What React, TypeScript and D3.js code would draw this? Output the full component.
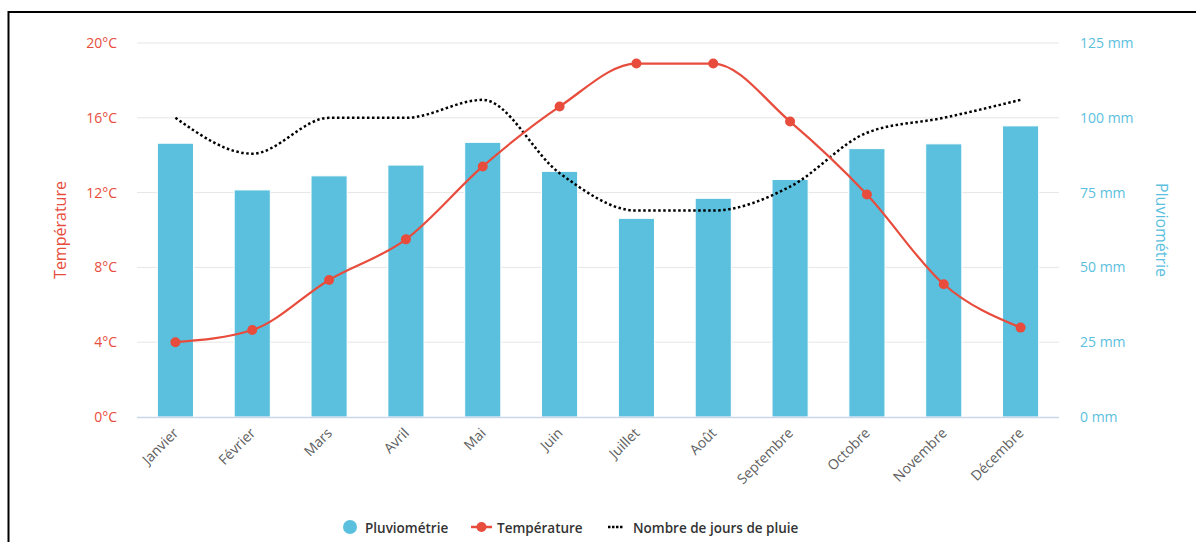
import React from 'react';
import * as d3 from 'd3';

const width = 1196;
const height = 542;
const left = 137;
const right = 1059;
const top = 43;
const bottom = 417;

const months = ['Janvier', 'Février', 'Mars', 'Avril', 'Mai', 'Juin', 'Juillet', 'Août', 'Septembre', 'Octobre', 'Novembre', 'Décembre'];
const rainfall = [91.5, 75.9, 80.6, 84.2, 91.8, 82.1, 66.4, 73.1, 79.4, 89.7, 91.3, 97.3];
const temperature = [4.0, 4.65, 7.33, 9.5, 13.4, 16.6, 18.9, 18.9, 15.8, 11.9, 7.1, 4.78];
const rainDays = [10, 8.8, 10, 10, 10.6, 8.15, 6.9, 6.9, 7.7, 9.5, 10, 10.6];
const tempTicks = [0, 4, 8, 12, 16, 20];
const rainTicks = [0, 25, 50, 75, 100, 125];

const red = '#e74c3c';
const blue = '#5bc0de';
const font = '"Open Sans", sans-serif';

const x = d3.scaleBand<string>().domain(months).range([left, right]).paddingInner(0.53).paddingOuter(0.265);
const xc = (m: string) => (x(m) as number) + x.bandwidth() / 2;
const yT = d3.scaleLinear().domain([0, 20]).range([bottom, top]);
const yR = d3.scaleLinear().domain([0, 125]).range([bottom, top]);
const yD = d3.scaleLinear().domain([0, 12.5]).range([bottom, top]);

const tempLine = d3.line<number>()
  .x((_, i) => xc(months[i]))
  .y(d => yT(d))
  .curve(d3.curveMonotoneX);

const daysLine = d3.line<number>()
  .x((_, i) => xc(months[i]))
  .y(d => yD(d))
  .curve(d3.curveMonotoneX);

const App = () => (
  <svg width={width} height={height} style={{ position: 'absolute', left: 0, top: 0, fontFamily: font }}>
    <rect x={8.5} y={12} width={1300} height={700} fill='white' stroke='black' strokeWidth={2} />
    {tempTicks.map(t => (
      <g key={t}>
        {t > 0 && <line x1={left} x2={right} y1={yT(t)} y2={yT(t)} stroke='#e6e6e6' strokeWidth={1} />}
        <text x={117} y={yT(t)} dy='0.35em' textAnchor='end' fill={red} fontSize={14}>{t}°C</text>
      </g>
    ))}
    {rainTicks.map(t => (
      <text key={t} x={1080} y={yR(t)} dy='0.35em' textAnchor='start' fill={blue} fontSize={14}>{t} mm</text>
    ))}
    <text transform={`translate(66, ${(top + bottom) / 2})`} textAnchor='middle' fill={red} fontSize={16} style={{}}>
    </text>
    <text transform={`translate(66, ${(top + bottom) / 2}) rotate(-90)`} textAnchor='middle' fill={red} fontSize={16}>Température</text>
    <text transform={`translate(1156, ${(top + bottom) / 2}) rotate(90)`} textAnchor='middle' fill={blue} fontSize={16}>Pluviométrie</text>
    {months.map((m, i) => (
      <rect key={m} x={x(m)} y={yR(rainfall[i])} width={x.bandwidth()} height={bottom - yR(rainfall[i])} fill={blue} stroke='#ffffff' strokeWidth={1} />
    ))}
    <line x1={left} x2={right} y1={bottom + 0.5} y2={bottom + 0.5} stroke='#ccd6eb' strokeWidth={1.5} />
    {months.map(m => (
      <text key={m} transform={`translate(${xc(m) + 4}, ${bottom + 17}) rotate(-45)`} textAnchor='end' fill='#606060' fontSize={14}>{m}</text>
    ))}
    <path d={daysLine(rainDays) as string} fill='none' stroke='black' strokeWidth={2.5} strokeDasharray='2.5,2.5' />
    <path d={tempLine(temperature) as string} fill='none' stroke={red} strokeWidth={2.2} />
    {temperature.map((t, i) => (
      <circle key={i} cx={xc(months[i])} cy={yT(t)} r={5} fill={red} />
    ))}
    <g fontSize={13.5} fontWeight={600} fill='#333333'>
      <circle cx={350} cy={527} r={7} fill={blue} />
      <text x={365} y={528} dy='0.35em'>Pluviométrie</text>
      <line x1={471} x2={492} y1={527} y2={527} stroke={red} strokeWidth={2.5} />
      <circle cx={481.5} cy={527} r={5} fill={red} />
      <text x={497} y={528} dy='0.35em'>Température</text>
      <line x1={608} x2={623} y1={527} y2={527} stroke='black' strokeWidth={2.5} strokeDasharray='2.5,1.5' />
      <text x={633} y={528} dy='0.35em'>Nombre de jours de pluie</text>
    </g>
  </svg>
);

export default App;
